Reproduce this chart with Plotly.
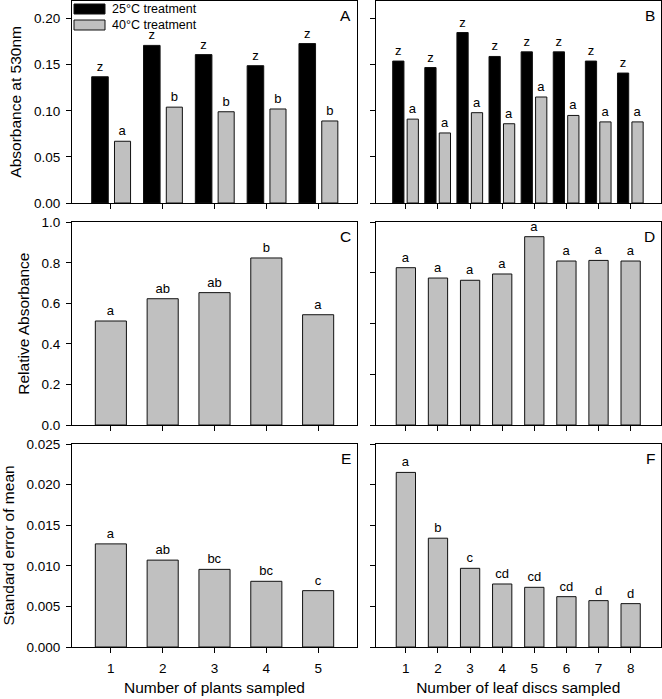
import plotly.graph_objects as go

# ---------------- data ----------------
plants = [1, 2, 3, 4, 5]
discs = [1, 2, 3, 4, 5, 6, 7, 8]

a_25 = [0.137, 0.171, 0.161, 0.149, 0.173]
a_40 = [0.067, 0.104, 0.099, 0.102, 0.089]
a_25_lab = ["z", "z", "z", "z", "z"]
a_40_lab = ["a", "b", "b", "b", "b"]

b_25 = [0.154, 0.147, 0.185, 0.159, 0.164, 0.164, 0.154, 0.141]
b_40 = [0.091, 0.076, 0.098, 0.086, 0.115, 0.095, 0.088, 0.088]
b_25_lab = ["z"] * 8
b_40_lab = ["a"] * 8

c_rel = [0.513, 0.623, 0.653, 0.824, 0.544]
c_lab = ["a", "ab", "ab", "b", "a"]

d_rel = [0.776, 0.725, 0.714, 0.745, 0.929, 0.809, 0.812, 0.809]
d_lab = ["a"] * 8

e_sem = [0.0127, 0.0107, 0.00956, 0.00809, 0.00694]
e_lab = ["a", "ab", "bc", "bc", "c"]

f_sem = [0.0215, 0.0134, 0.00969, 0.00776, 0.00735, 0.0062, 0.00571, 0.00534]
f_lab = ["a", "b", "c", "cd", "cd", "cd", "d", "d"]

legend_names = ["25°C treatment", "40°C treatment"]
panel_letters = ["A", "B", "C", "D", "E", "F"]

# ---------------- style ----------------
W, H = 662, 699
FONT = "Liberation Sans, Arial, sans-serif"
GRAY = "#c0c0c0"
BLACK = "#000000"

def px_x(p):
    return p / W

def px_y(p):
    return 1 - p / H

fig = go.Figure()

def bar(x, y, text, color, axis, width, offset, name):
    xa = "x" if axis == 1 else f"x{axis}"
    ya = "y" if axis == 1 else f"y{axis}"
    return go.Bar(
        x=x, y=y, text=text, textposition="outside", constraintext="none",
        textfont=dict(family=FONT, size=13, color="black"),
        marker=dict(color=color, line=dict(color="#111111", width=1)),
        width=width, offset=offset, name=name, showlegend=False,
        xaxis=xa, yaxis=ya, cliponaxis=False,
    )

# A
fig.add_trace(bar(plants, a_25, a_25_lab, BLACK, 1, 0.32, -0.37, legend_names[0]))
fig.add_trace(bar(plants, a_40, a_40_lab, GRAY, 1, 0.31, 0.07, legend_names[1]))
# B
fig.add_trace(bar(discs, b_25, b_25_lab, BLACK, 2, 0.35, -0.41, legend_names[0]))
fig.add_trace(bar(discs, b_40, b_40_lab, GRAY, 2, 0.35, 0.04, legend_names[1]))
# C, D
fig.add_trace(bar(plants, c_rel, c_lab, GRAY, 3, 0.6, -0.3, "rel"))
fig.add_trace(bar(discs, d_rel, d_lab, GRAY, 4, 0.6, -0.3, "rel"))
# E, F
fig.add_trace(bar(plants, e_sem, e_lab, GRAY, 5, 0.6, -0.3, "sem"))
fig.add_trace(bar(discs, f_sem, f_lab, GRAY, 6, 0.6, -0.3, "sem"))

# domains (pixel-derived)
xdom_left = [px_x(72), px_x(357)]
xdom_right = [px_x(376), px_x(660.5)]
ydom_top = [px_y(203), px_y(0.7)]
ydom_mid = [px_y(425), px_y(222.3)]
ydom_bot = [px_y(647), px_y(444)]

axis_common = dict(
    showline=True, mirror=True, linecolor="black", linewidth=1,
    ticks="outside", ticklen=5, tickwidth=1, tickcolor="black",
    showgrid=False, zeroline=False, automargin=False,
    tickfont=dict(family=FONT, size=13.5, color="black"),
)
title_font = dict(family=FONT, size=15.5, color="black")

layout = dict(
    template="none",
    width=W, height=H, margin=dict(l=0, r=0, t=0, b=0, pad=0, autoexpand=False),
    plot_bgcolor="white", paper_bgcolor="white",
    font=dict(family=FONT, color="black"),
    showlegend=False, barmode="overlay",
)

# x axes
for i, (dom, rng, vals, anchor) in enumerate([
    (xdom_left, [0.25, 5.75], plants, "y"),
    (xdom_right, [0.07, 8.93], discs, "y2"),
    (xdom_left, [0.25, 5.75], plants, "y3"),
    (xdom_right, [0.07, 8.93], discs, "y4"),
    (xdom_left, [0.25, 5.75], plants, "y5"),
    (xdom_right, [0.07, 8.93], discs, "y6"),
], start=1):
    key = "xaxis" if i == 1 else f"xaxis{i}"
    ax = dict(axis_common, domain=dom, range=rng, tickvals=vals, anchor=anchor,
              showticklabels=(i >= 5), ticklabelstandoff=4)
    if i == 5:
        ax["title"] = dict(text="Number of plants sampled", font=title_font, standoff=6)
    if i == 6:
        ax["title"] = dict(text="Number of leaf discs sampled", font=title_font, standoff=6)
    layout[key] = ax

# y axes
y_specs = [
    (ydom_top, [0, 0.2195], 0.05, ".2f", "x", True, "Absorbance at 530nm"),
    (ydom_top, [0, 0.2195], 0.05, ".2f", "x2", False, None),
    (ydom_mid, [0, 1.0], 0.2, ".1f", "x3", True, "Relative Absorbance"),
    (ydom_mid, [0, 1.0], 0.25, ".2f", "x4", False, None),
    (ydom_bot, [0, 0.025], 0.005, ".3f", "x5", True, "Standard error of mean"),
    (ydom_bot, [0, 0.025], 0.005, ".3f", "x6", False, None),
]
for i, (dom, rng, dt, fmt, anchor, labels, title) in enumerate(y_specs, start=1):
    key = "yaxis" if i == 1 else f"yaxis{i}"
    ax = dict(axis_common, domain=dom, range=rng, dtick=dt, tick0=0, tickformat=fmt,
              anchor=anchor, showticklabels=labels, ticklabelstandoff=3)
    if title:
        ax["title"] = dict(text=title, font=title_font, standoff=8)
    layout[key] = ax

fig.update_layout(**layout)

# panel letters
for i, letter in enumerate(panel_letters, start=1):
    xr = "x" if i == 1 else f"x{i}"
    yr = "y" if i == 1 else f"y{i}"
    fig.add_annotation(
        text=letter, xref=f"{xr} domain", yref=f"{yr} domain", x=1, y=1,
        xanchor="right", yanchor="top", xshift=-4, yshift=-4, showarrow=False,
        font=dict(family=FONT, size=15.5, color="black"),
    )

# legend (drawn inside panel A)
for k, (color, name) in enumerate(zip([BLACK, GRAY], legend_names)):
    top = 4 + 16 * k
    fig.add_shape(
        type="rect", xref="paper", yref="paper",
        x0=px_x(74), x1=px_x(105), y0=px_y(top + 10), y1=px_y(top),
        fillcolor=color, line=dict(color="#111111", width=1),
    )
    fig.add_annotation(
        text=name, xref="paper", yref="paper", x=px_x(111), y=px_y(top + 5),
        xanchor="left", yanchor="middle", showarrow=False, borderpad=0,
        font=dict(family=FONT, size=12.5, color="black"),
    )

fig.write_html("out.html", config={"displayModeBar": False},
               post_script="document.body.style.margin='0';")
